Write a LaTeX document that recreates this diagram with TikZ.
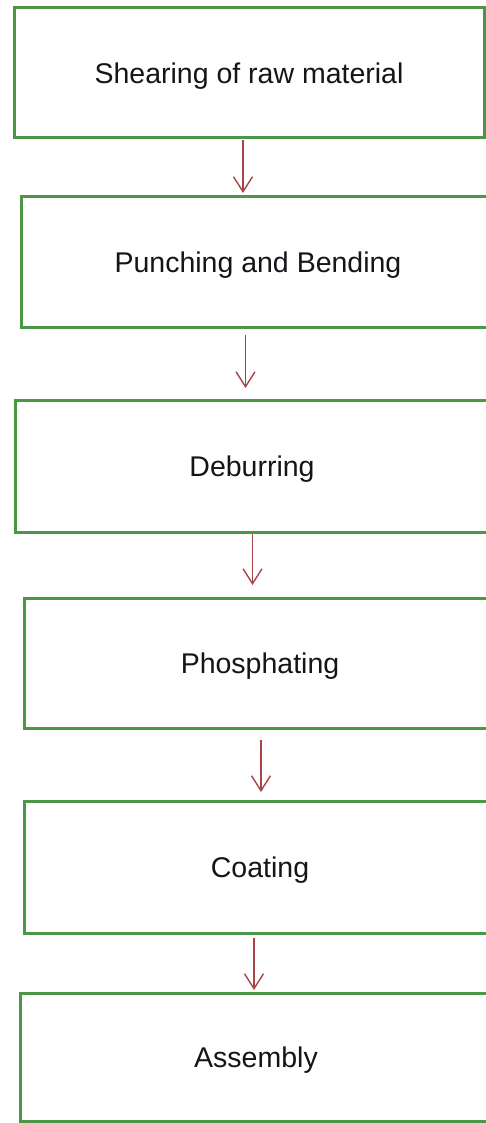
\documentclass[tikz,border=0pt]{standalone}
\usepackage{fontspec}
\setmainfont{Liberation Sans}
\usetikzlibrary{arrows.meta}
\definecolor{boxgreen}{RGB}{76,150,72}
\definecolor{arrred}{RGB}{168,68,70}
\definecolor{txtcol}{RGB}{20,20,25}
\begin{document}
\begin{tikzpicture}[x=1pt,y=-1pt,
  procbox/.style={draw=boxgreen, line width=3pt, fill=white, minimum height=130pt,
    text height=20.5pt, text depth=0pt, inner sep=0pt,
    font=\fontsize{28.5}{32}\selectfont, text=txtcol},
  flowarrow/.style={draw=arrred, line width=1.4pt,
    -{Straight Barb[length=15pt,width=19pt]}}]
\useasboundingbox (0,0) rectangle (485,1123);
\node[procbox, minimum width=470pt] (b1) at (249,73) {Shearing of raw material};
\node[procbox, minimum width=474pt] (b2) at (258,262) {Punching and Bending};
\node[procbox, minimum width=474pt, minimum height=132pt] (b3) at (252,466) {Deburring};
\node[procbox, minimum width=472pt] (b4) at (260,663) {Phosphating};
\node[procbox, minimum width=472pt, minimum height=132pt] (b5) at (260,867) {Coating};
\node[procbox, minimum width=472pt, minimum height=128pt] (b6) at (256,1057) {Assembly};
\coordinate (x1) at (243,0);
\coordinate (x2) at (245.5,0);
\coordinate (x3) at (252.5,0);
\coordinate (x4) at (261,0);
\coordinate (x5) at (254,0);
\draw[flowarrow, shorten <=0.5pt, shorten >=2.5pt] (b1.south -| x1) -- (b2.north -| x1);
\draw[flowarrow, shorten <=6.5pt, shorten >=10.5pt] (b2.south -| x2) -- (b3.north -| x2);
\draw[flowarrow, shorten <=0pt, shorten >=11.5pt] (b3.south -| x3) -- (b4.north -| x3);
\draw[flowarrow, shorten <=10.5pt, shorten >=7.5pt] (b4.south -| x4) -- (b5.north -| x4);
\draw[flowarrow, shorten <=3.5pt, shorten >=1.5pt] (b5.south -| x5) -- (b6.north -| x5);
\end{tikzpicture}
\end{document}
